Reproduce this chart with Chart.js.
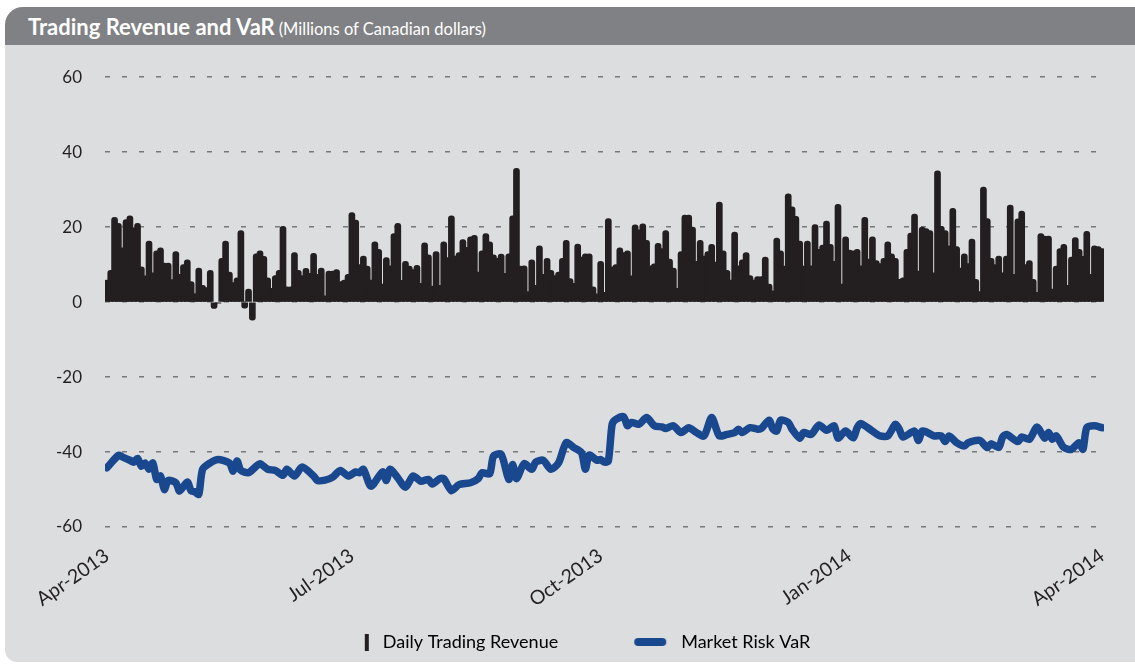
<!DOCTYPE html>
<html>
<head>
<meta charset="utf-8">
<script src="https://cdn.jsdelivr.net/npm/chart.js@4.4.1/dist/chart.umd.min.js"></script>
<style>
  body { margin: 0; background: #fff; width: 1135px; height: 666px; overflow: hidden; position: relative; font-family: Lato, sans-serif; }
  #panel { position: absolute; left: 5px; top: 7px; width: 1150px; height: 655px; background: #dcdddf; border-radius: 18px 0 0 12px; }
  #header { position: absolute; left: 5px; top: 7px; width: 1150px; height: 38px; line-height: 40px; background: #808184; border-radius: 18px 0 0 0; color: #fff; white-space: nowrap; }
  #header .main { margin-left: 23px; font-weight: 700; font-size: 22px; }
  #header .sub { margin-left: 4px; font-size: 16.5px; }
  canvas { position: absolute; top: 44px; }
</style>
</head>
<body>
<div id="panel"></div>
<div id="header"><span class="main">Trading Revenue and VaR</span><span class="sub">(Millions of Canadian dollars)</span></div>
<canvas id="tradingChart" height="622"></canvas>
<script>
// daily trading revenue, one value per trading day (Apr-2013 .. Apr-2014)
const revenue = [
  5.9, 8.5, 22.6, 21, 14.5, 22, 23, 19.8, 21, 9.4, 7, 16.3, 7.8, 13.7, 14.5, 10.4, 10.4, 6, 13.5, 7.4,
  10, 11.3, 5.5, 2.3, 9.1, 4.5, 3.9, 8.5, -1.7, -0.3, 11.7, 16.3, 8, 5.2, 6.5, 19.1, -1.6, 3.5, -4.8, 12.9,
  13.7, 12.2, 6.5, 3.7, 7.1, 8.5, 20.2, 4.1, 4.1, 13.2, 8.5, 7.1, 9, 7.7, 13, 7.4, 9.1, 1.7, 8.3, 8.3,
  8.7, 5.5, 5.9, 7.4, 23.9,
  21.9, 10, 12.3, 9.6, 5.9, 16.1, 14.1, 4.8, 11.9, 9.7, 18.3, 21, 5.8, 10.9, 9.6, 8.7, 9.8, 5, 15.8, 12.6,
  4.3, 13.5, 4.5, 16.1, 11.9, 23, 12.3, 13.2, 16.7, 14.6, 17.4, 17.8, 8, 13.7, 18.3, 16.1, 12.6, 11.7, 12.8, 7.7,
  12.9, 23, 35.7, 9.6, 9.7, 2.8, 11.3, 4.5, 15, 7.4, 11.7, 8.5, 7.1, 8, 11.7, 16.5, 6.3, 5, 15.5, 12,
  12.9, 12.9, 4.1, 2.2, 10.9,
  2.6, 22.3, 9.4, 10, 14.5, 13.2, 13.7, 7, 20.6, 19.3, 20.9, 16.5, 9.7, 10.2, 15.7, 14.3, 19.1, 11.5, 9.1, 3.7,
  13.5, 23.2, 23.2, 20, 10.9, 16.5, 12.3, 13.5, 15.4, 10.7, 26.7, 13.7, 8.5, 5.9, 18.7, 9.7, 11.3, 13.2, 7.1, 5.9,
  6.8, 6.8, 12, 4.8, 3, 17.1, 13.7, 9.6, 28.9, 25.4, 22.9, 16.3, 9.6, 16.3, 9.7, 20.7, 14.1, 15.2, 21.6, 15.4,
  10.9, 26.1, 4.8, 17.4, 13.9,
  13.7, 14.1, 9.7, 22.6, 11.5, 17.4, 11.1, 10.3, 11.7, 16.1, 12.9, 11.7, 6.1, 6.5, 14.1, 18.4, 23.5, 8.3, 20, 19.6,
  19.1, 7.8, 35, 20.2, 19.1, 15, 25, 14.8, 9.1, 12.9, 10.3, 16.8, 6.1, 2.8, 30.7, 22.3, 11.7, 10, 12.3, 7.8,
  12.3, 25.9, 7.4, 22.2, 24.3, 10, 11.1, 6.1, 2.6, 18.3, 17.6, 17.6, 3.5, 9.6, 14.3, 15.4, 4.5, 12, 17.2, 14.1,
  12.2, 18.9, 7.4, 15, 14.8, 14.3
];

// market risk VaR, read at these trading-day indices
const varDays = [
  0, 3, 4, 6, 7, 8, 9, 10, 11, 12, 13, 14, 15, 16, 18, 19, 21, 22, 23, 24,
  25, 27, 29, 32, 33, 34, 35, 37, 39, 40, 42, 44, 46, 47, 49, 51, 54, 55, 57, 59,
  61, 63, 65, 66, 67, 69, 72, 73, 74, 76, 78, 80, 82, 84, 85, 87, 88, 90, 92, 95,
  97, 98, 100, 101, 103, 105, 106, 107, 109, 111, 112, 114, 116, 118, 120, 122, 124, 125, 126, 128,
  129, 130, 131, 132, 133, 135, 136, 137, 139, 141, 143, 145, 146, 148, 150, 152, 154, 156, 158, 160,
  162, 164, 165, 166, 168, 170, 171, 173, 174, 175, 176, 178, 179, 181, 182, 184, 186, 188, 190, 191,
  193, 195, 196, 197, 200, 202, 204, 206, 207, 208, 211, 212, 213, 214, 216, 218, 219, 220, 222, 224,
  225, 228, 230, 231, 233, 234, 235, 238, 239, 241, 243, 245, 246, 247, 248, 250, 252, 254, 255, 256,
  258, 260
];
const varValues = [
  -44.2, -40.9, -41.3, -42.2, -42.7, -41.7, -43.8, -42.9, -44.6, -42.9, -47.3, -46.4, -50, -47.6, -48.2, -50.4, -48, -50.4, -50.6, -51.3,
  -44.6, -42.9, -42, -42.9, -45.1, -42.4, -44.9, -45.5, -43.8, -43.1, -44.6, -44.9, -46.2, -44.6, -46.4, -44, -46.4, -47.6, -47.5, -46.7,
  -44.9, -46.4, -45.3, -45.5, -44.6, -49.1, -45.3, -47.6, -44.6, -46.9, -49.4, -46.4, -47.8, -47.3, -48.5, -47.1, -47.1, -50.3, -48.7, -48.2,
  -47.1, -45.5, -45.8, -41.1, -40.6, -47.3, -43.3, -47.1, -43.1, -44.6, -42.7, -42.2, -44.6, -42.9, -37.5, -38.8, -40.2, -44.6, -40.8, -42.2,
  -42, -42.7, -42.4, -32.6, -31.3, -30.6, -33, -32.1, -32.6, -30.8, -33, -33.3, -33.7, -33, -34.8, -33.5, -34.8, -35.7, -30.8, -35.7,
  -35.3, -34.8, -33.9, -34.8, -33.5, -33.9, -33.7, -31.5, -33.9, -34.4, -31.5, -32.1, -33.9, -36.3, -34.8, -35.3, -32.8, -34.2, -33, -36.3,
  -34.4, -36.2, -33.5, -32.4, -34.4, -35.7, -35.7, -32.6, -33.9, -36, -34.4, -36.9, -34.4, -34.6, -35.7, -35.7, -37.2, -35.7, -37.5, -38.4,
  -37.5, -36.9, -38.8, -37.8, -38.8, -36, -35.3, -37.2, -36, -36.6, -33.3, -36.3, -34.8, -36.6, -35.7, -38.8, -39.3, -37.5, -39.3, -33.5,
  -33, -33.5
];

const xTickDays = [0, 64, 129, 194, 260];
const xTickLabels = ['Apr-2013', 'Jul-2013', 'Oct-2013', 'Jan-2014', 'Apr-2014'];
const seriesNames = ['Daily Trading Revenue', 'Market Risk VaR'];

const canvas = document.getElementById('tradingChart');
const ctx = canvas.getContext('2d');
const H = 622;           // canvas height (canvas starts 44px down the page)
const plotBottom = 481;  // -60 gridline
const legendMid = 598;   // legend text centre line

// legend spacing: measure the label widths so the two items land where the original has them
const legendFont = 18;
ctx.font = legendFont + 'px Lato';
const t1 = ctx.measureText(seriesNames[0]).width;
const t2 = ctx.measureText(seriesNames[1]).width;
const legendPad = 20;
const legendBox = Math.round(298 - legendFont / 2 - t1 - legendPad);
const shift = Math.round(legendPad + t1 + t2 - 338);   // canvas offset that centres the legend like the original
const legendH = legendFont + legendPad + 10;
const bottomPad = Math.round(H - legendH + legendPad + legendFont / 2 - legendMid);
const xAxisH = H - bottomPad - legendH - plotBottom - 2;

canvas.width = 1135 - shift;
canvas.style.left = shift + 'px';

function makeMarker(w, h, draw) {
    const c = document.createElement('canvas');
    c.width = w;
    c.height = h;
    draw(c.getContext('2d'));
    return c;
}
const barMarker = makeMarker(legendBox + 4, 17, g => {
    g.fillStyle = '#231f20';
    g.fillRect(legendBox + legendFont / 2 - 16, 0, 4, 17);
});
const varMarker = makeMarker(legendBox + 4, 10, g => {
    g.strokeStyle = '#19488e';
    g.lineWidth = 8;
    g.lineCap = 'round';
    g.beginPath();
    g.moveTo(legendBox + legendFont / 2 - 41, 5);
    g.lineTo(legendBox + legendFont / 2 - 17, 5);
    g.stroke();
});

new Chart(ctx, {
    type: 'bar',
    data: {
        datasets: [
            {
                type: 'bar',
                label: seriesNames[0],
                data: revenue.map((v, i) => ({ x: i, y: v })),
                backgroundColor: '#231f20',
                barThickness: 6,
                borderRadius: 3,
                order: 2
            },
            {
                type: 'line',
                label: seriesNames[1],
                data: varDays.map((d, k) => ({ x: d, y: varValues[k] })),
                borderColor: '#19488e',
                borderWidth: 7.5,
                pointRadius: 0,
                tension: 0.25,
                borderCapStyle: 'round',
                borderJoinStyle: 'round',
                order: 1
            }
        ]
    },
    options: {
        responsive: false,
        animation: false,
        layout: { padding: { left: 0, right: 31, top: 33, bottom: bottomPad } },
        scales: {
            x: {
                type: 'linear',
                min: -0.5,
                max: revenue.length - 0.5,
                offset: false,
                grid: { display: false, drawTicks: false },
                border: { display: false },
                afterBuildTicks: scale => { scale.ticks = xTickDays.map(v => ({ value: v })); },
                afterFit: scale => { scale.height = xAxisH; },
                ticks: {
                    autoSkip: false,
                    minRotation: 35,
                    maxRotation: 35,
                    padding: 17,
                    color: '#231f20',
                    font: { family: 'Lato', size: 19.5 },
                    callback: v => xTickLabels[xTickDays.indexOf(v)]
                }
            },
            y: {
                min: -60,
                max: 60,
                afterFit: scale => { scale.width = 105 - shift; },
                ticks: {
                    stepSize: 20,
                    padding: 23,
                    color: '#231f20',
                    font: { family: 'Lato', size: 17 }
                },
                grid: { color: '#77787b', lineWidth: 1.5, drawTicks: false },
                border: { display: false, dash: [5, 12] }
            }
        },
        plugins: {
            tooltip: { enabled: false },
            legend: {
                position: 'bottom',
                align: 'center',
                labels: {
                    usePointStyle: true,
                    pointStyleWidth: legendBox,
                    padding: legendPad,
                    color: '#231f20',
                    font: { family: 'Lato', size: legendFont },
                    generateLabels: () => [
                        { text: seriesNames[0], pointStyle: barMarker, lineWidth: 0, hidden: false, datasetIndex: 0 },
                        { text: seriesNames[1], pointStyle: varMarker, lineWidth: 0, hidden: false, datasetIndex: 1 }
                    ]
                }
            }
        }
    }
});
</script>
</body>
</html>
